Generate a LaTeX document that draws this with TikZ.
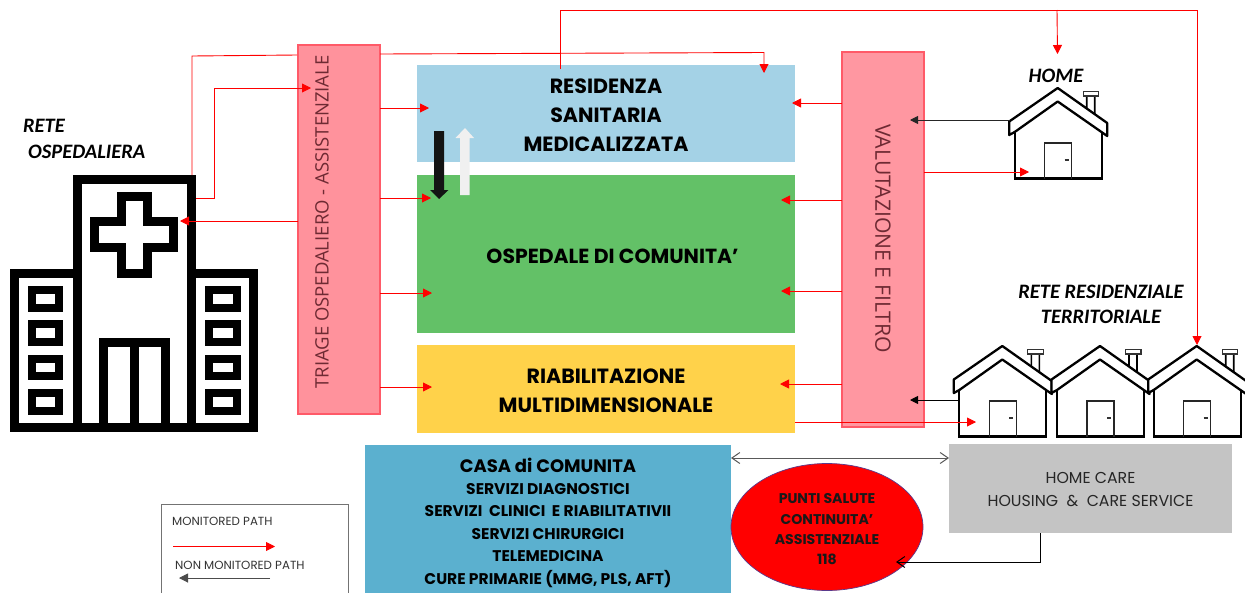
\documentclass[tikz,border=0pt]{standalone}
\usepackage{fontspec}
\setmainfont{Carlito}
\newfontfamily\geo{Poppins}
\newfontfamily\opens{Open Sans}
\usetikzlibrary{arrows.meta,shapes.geometric}
\definecolor{pinkbox}{HTML}{FF929C}
\definecolor{pinkedge}{HTML}{FF5A68}
\definecolor{rsmblue}{HTML}{A4D2E6}
\definecolor{ospgreen}{HTML}{63C167}
\definecolor{riabyellow}{HTML}{FFD24A}
\definecolor{casablue}{HTML}{5BB0CF}
\definecolor{hcgrey}{HTML}{C4C4C4}
\definecolor{pinktext}{HTML}{6E2A33}
\definecolor{ellipseedge}{HTML}{5A3A8C}
\tikzset{
  x=1pt,y=-1pt,
  box/.style={rectangle,outer sep=0pt,inner sep=0pt,anchor=north west,align=center},
  filterbox/.style={box,fill=pinkbox,draw=pinkedge,line width=1.4pt},
  strong/.style={font=\geo\bfseries\fontsize{20.6}{29}\selectfont,text=black,inner sep=0pt,align=center},
  small strong/.style={font=\geo\bfseries\fontsize{15.5}{22.4}\selectfont,text=black},
  netlabel/.style={font=\bfseries\itshape\fontsize{20.5}{25}\selectfont,text=black,inner sep=0pt,align=center},
  mon/.style={red,line width=0.9pt,-{Triangle[length=9pt,width=9pt]}},
  monline/.style={red,line width=0.9pt},
  nonmon/.style={black!85,line width=0.9pt,-{Triangle[length=8pt,width=8pt]}},
  openarrow/.style={line width=1pt,{Straight Barb[length=8pt,width=11pt]}-{Straight Barb[length=8pt,width=11pt]}},
  openend/.style={black,line width=1pt,-{Straight Barb[length=8pt,width=11pt]}},
  hospline/.style={black,line width=8.6pt,miter limit=10},
  hospwin/.style={black,line width=8pt},
  houseicon/.pic={
    \draw[white,fill=white] (-43,45) rectangle (44,91);
    \draw[black,line width=2.3pt,line join=miter] (-43,45) -- (-43,91.5) -- (44,91.5) -- (44,46);
    \draw[black!85,line width=1.3pt] (-13,91.5) -- (-13,56) -- (14,56) -- (14,91.5);
    \draw[black!80,line width=1.3pt] (7,73) -- (11,73);
    \draw[black,line width=1.6pt,fill=white] (29,8) -- (29,25) -- (37,31) -- (37,9);
    \draw[black!80,line width=1.3pt,fill=white] (25.5,4.5) -- (41,4.5) -- (41,9) -- (25.5,9) -- cycle;
    \draw[black,line width=2.3pt,fill=white,line join=round] (0,1) -- (-48.5,34.5) -- (-48.5,48) -- (-43,45) -- (0,14.5) -- (49.5,49) -- (49.5,36) -- cycle;
  }
}
\begin{document}
\begin{tikzpicture}
\clip (0,0) rectangle (1245,592);
\fill[white] (0,0) rectangle (1245,592);

% coloured boxes
\node[box,fill=rsmblue,minimum width=378pt,minimum height=97pt] (rsm) at (417,65) {};
\node[strong] (rsmtext) at (606,115) {RESIDENZA\\SANITARIA\\MEDICALIZZATA};
\node[box,fill=ospgreen,minimum width=378pt,minimum height=158pt] (osp) at (417,175) {};
\node[strong,font=\geo\bfseries\fontsize{20.4}{29}\selectfont] (osptext) at (612.5,256) {OSPEDALE DI COMUNITA’};
\node[box,fill=riabyellow,minimum width=378pt,minimum height=88pt] (riab) at (417,345) {};
\node[strong] (riabtext) at (606,391) {RIABILITAZIONE\\MULTIDIMENSIONALE};
\node[box,fill=casablue,minimum width=366pt,minimum height=155pt,small strong] (casa) at (365,445) {{\fontsize{18}{22.4}\selectfont CASA di COMUNITA}\\SERVIZI DIAGNOSTICI\\SERVIZI\ \ CLINICI\ \ E RIABILITATIVII\\SERVIZI CHIRURGICI\\TELEMEDICINA\\CURE PRIMARIE (MMG, PLS, AFT)};
\node[box,fill=hcgrey,minimum width=283pt,minimum height=89pt] (hc) at (949,444) {};
\node[inner sep=0pt,align=center,font=\geo\fontsize{15.8}{22.5}\selectfont,text=black!85] (hctext) at (1090.5,489.5) {HOME CARE\\HOUSING\ \ \&\ \ CARE SERVICE};
\node[ellipse,fill=red,draw=ellipseedge,line width=0.7pt,minimum width=192pt,minimum height=127pt,inner sep=0pt,outer sep=0pt] (ps) at (827,527) {};
\node[inner sep=0pt,align=center,font=\geo\bfseries\fontsize{14.1}{20.3}\selectfont,text=black!90] (pstext) at (827,529.5) {PUNTI SALUTE\\CONTINUITA’\\ASSISTENZIALE\\118};
\node[box,draw=black!55,line width=0.9pt,minimum width=187pt,minimum height=110pt] (legend) at (161.5,504.5) {};

% filter boxes
\node[filterbox,minimum width=82pt,minimum height=369pt] (triage) at (298,45) {};
\node[rotate=90,font=\opens\fontsize{18.5}{22}\selectfont,text=pinktext] (triagetext) at (322,222) {TRIAGE OSPEDALIERO - ASSISTENZIALE};
\node[filterbox,minimum width=82pt,minimum height=375pt,fill opacity=0.95] (valut) at (842,52) {};
\node[rotate=-90,font=\opens\fontsize{21.2}{24}\selectfont,text=pinktext] (valuttext) at (883,238.5) {VALUTAZIONE E FILTRO};

% hospital
\draw[hospline] (77.5,427.5) -- (77.5,179.5) -- (191.5,179.5) -- (191.5,427.5);
\draw[hospline] (77.5,273.5) -- (14.5,273.5) -- (14.5,427.5) -- (253.5,427.5) -- (253.5,273.5) -- (191.5,273.5);
\draw[hospline] (121.5,196.5) -- (147.5,196.5) -- (147.5,221.5) -- (173.5,221.5) -- (173.5,247.5) -- (147.5,247.5) -- (147.5,273.5) -- (121.5,273.5) -- (121.5,247.5) -- (94.5,247.5) -- (94.5,221.5) -- (121.5,221.5) -- cycle;
\draw[hospline] (103.5,427.5) -- (103.5,342.5) -- (165.5,342.5) -- (165.5,427.5);
\draw[hospline] (134.5,342.5) -- (134.5,427.5);
\foreach \ya/\yb in {290/308,324/342,359/376,393/411}{
  \draw[hospwin] (32,\ya) rectangle (59,\yb);
  \draw[hospwin] (209,\ya) rectangle (237,\yb);
}

% houses
\pic (homehouse) at (1057.7,87) {houseicon};
\pic (resa) at (1002.3,345) {houseicon};
\pic (resb) at (1100,345) {houseicon};
\pic (resc) at (1196.7,345) {houseicon};

% block arrows
\fill[black!92] (434,131) -- (444,131) -- (444,190) -- (448.5,190) -- (439,199) -- (430,190) -- (434,190) -- cycle;
\fill[black!6] (460,195) -- (469.5,195) -- (469.5,138) -- (474,138) -- (465,128) -- (455.5,138) -- (460,138) -- cycle;

% free ends
\coordinate (hospTopA) at (192,175);
\coordinate (hospOut) at (196,198);
\coordinate (hospIn) at (180,221);
\coordinate (rsmTop) at (764,73);
\coordinate (rsmUp) at (560,69);
\coordinate (homeDrop) at (1057.5,54);
\coordinate (homeTap) at (1057,10);
\coordinate (resRoof) at (1197,345);
\coordinate (t0) at (297,55);
\coordinate (t1) at (429,108);
\coordinate (t2) at (431,198);
\coordinate (t3) at (432,293);
\coordinate (t4) at (432,387);
\coordinate (triageIn) at (311,88);
\coordinate (v1) at (792,103);
\coordinate (v2) at (781,200);
\coordinate (v3) at (781,291);
\coordinate (v4) at (780,384);
\coordinate (homeOut) at (1010,120);
\coordinate (valIn1) at (910,120);
\coordinate (homeIn) at (1029,172);
\coordinate (resOut) at (958,400);
\coordinate (valIn2) at (910,400);
\coordinate (resIn) at (976,422);

% red connectors
\draw[monline] (hospTopA) -- (192,56) -- (t0);
\draw[mon] (triage.east |- 0,54) -- (764,52.5) -- (rsmTop);
\draw[mon] (hospOut) -- (214,198) -- (214,88) -- (triageIn);
\draw[mon] (triage.west |- hospIn) -- (hospIn);
\draw[mon] (triage.east |- t1) -- (t1);
\draw[mon] (triage.east |- t2) -- (t2);
\draw[mon] (triage.east |- t3) -- (t3);
\draw[mon] (triage.east |- t4) -- (t4);
\draw[mon] (rsmUp) -- (560,10) -- (1197,10) -- (resRoof);
\draw[mon] (homeTap) -- (homeDrop);
\draw[mon] (valut.west |- v1) -- (v1);
\draw[mon] (valut.west |- v2) -- (v2);
\draw[mon] (valut.west |- v3) -- (v3);
\draw[mon] (valut.west |- v4) -- (v4);
\draw[mon] (valut.east |- homeIn) -- (homeIn);
\draw[mon] (riab.east |- resIn) -- (resIn);

% dark connectors
\draw[nonmon] (homeOut) -- (valIn1);
\draw[nonmon,black] (resOut) -- (valIn2);
\draw[openarrow,black!65] (casa.east |- 0,458) -- (hc.west |- 0,458);
\draw[openend] (hc.south -| 1040,0) -- (1040,562) -- (896,562);

% labels
\node[netlabel,anchor=west] (l1) at (23,126) {RETE};
\node[netlabel,anchor=west] (l2) at (28,152) {OSPEDALIERA};
\node[netlabel] (l3) at (1056,76) {HOME};
\node[netlabel] (l4) at (1101,304.5) {RETE RESIDENZIALE\\TERRITORIALE};

% legend
\coordinate (lg1a) at (173,546.5);
\coordinate (lg1b) at (275,546.5);
\coordinate (lg2a) at (270,578);
\coordinate (lg2b) at (179,578);
\node[font=\geo\fontsize{11.8}{13}\selectfont,text=black!80,anchor=west,inner sep=0pt] (m1) at (172,521) {MONITORED PATH};
\node[font=\geo\fontsize{11.8}{13}\selectfont,text=black!80,anchor=west,inner sep=0pt] (m2) at (175,565) {NON MONITORED PATH};
\draw[mon] (lg1a) -- (lg1b);
\draw[black!70,line width=1pt,-{Triangle[length=9pt,width=9pt]}] (lg2a) -- (lg2b);
\end{tikzpicture}
\end{document}
